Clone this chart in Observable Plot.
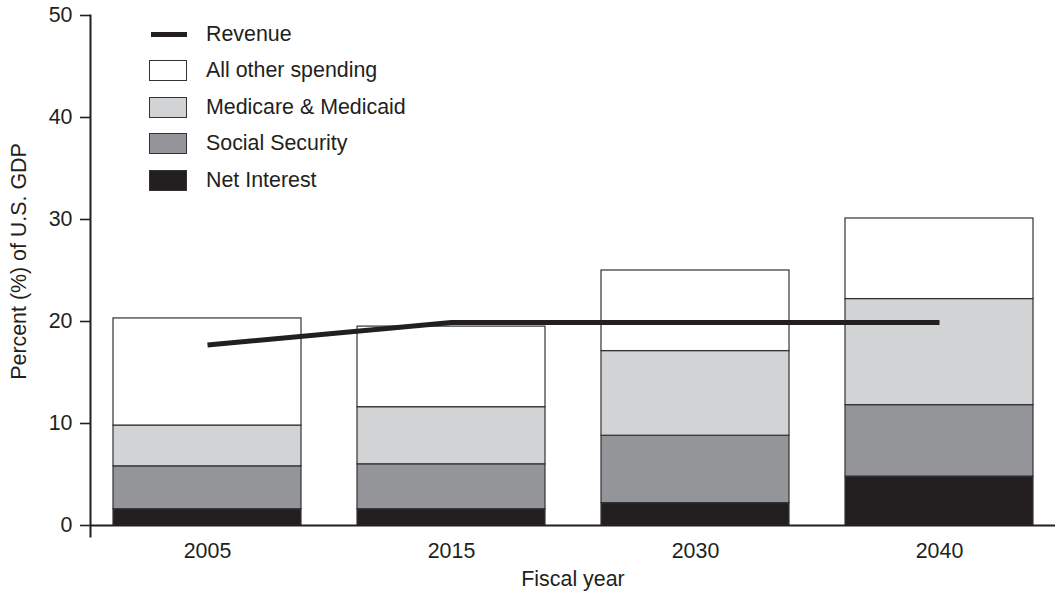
<!DOCTYPE html>
<html>
<head>
<meta charset="utf-8">
<script src="https://cdn.jsdelivr.net/npm/d3@7"></script>
<script src="https://cdn.jsdelivr.net/npm/@observablehq/plot@0.6"></script>
<style>
  html, body { margin: 0; padding: 0; background: #fff; }
  #wrap { position: relative; width: 1055px; height: 592px; font-family: "Liberation Sans", Arial, Helvetica, sans-serif; color: #231f20; }
  #legend { position: absolute; left: 149px; top: 0; }
  .item { position: absolute; left: 0; height: 36px; display: flex; align-items: center; white-space: nowrap; font-size: 21.4px; }
  .sw { width: 36px; height: 19px; border: 1px solid #333; box-sizing: content-box; margin-right: 19px; }
  .ln { width: 36px; height: 5px; background: #231f20; margin: 0 19px 0 2px; }
</style>
</head>
<body>
<div id="wrap"><div id="legend"></div></div>
<script>
const years = ["2005", "2015", "2030", "2040"];
const seriesNames = ["Net Interest", "Social Security", "Medicare & Medicaid", "All other spending"];
const netInterest = [1.6, 1.6, 2.2, 4.8];
const socialSecurity = [4.2, 4.4, 6.6, 7.0];
const medicare = [4.0, 5.6, 8.3, 10.4];
const allOther = [10.5, 7.9, 7.9, 7.9];
const revenue = [17.7, 19.9, 19.9, 19.9];
const yTicks = [0, 10, 20, 30, 40, 50];
const seriesColors = ["#231f20", "#939598", "#d1d3d4", "#ffffff"];

const seriesValues = [netInterest, socialSecurity, medicare, allOther];
const stacked = [];
years.forEach((yr, i) => {
  seriesNames.forEach((s, j) => stacked.push({year: yr, series: s, value: seriesValues[j][i]}));
});
const revData = years.map((yr, i) => ({year: yr, value: revenue[i]}));

const chart = Plot.plot({
  width: 1055,
  height: 592,
  marginLeft: 90,
  marginRight: 0,
  marginTop: 15,
  marginBottom: 67,
  style: {fontFamily: '"Liberation Sans", Arial, Helvetica, sans-serif', fontSize: "21px", color: "#231f20", background: "transparent"},
  x: {domain: years, paddingInner: 0.23, paddingOuter: 0.09, label: null},
  y: {domain: [0, 50], label: null},
  color: {domain: seriesNames, range: seriesColors},
  marks: [
    Plot.barY(stacked, {x: "year", y: "value", fill: "series", order: seriesNames, stroke: "#333", strokeWidth: 1.2}),
    Plot.ruleY([0], {stroke: "#231f20", strokeWidth: 2}),
    Plot.frame({anchor: "left", insetBottom: -11, stroke: "#231f20", strokeWidth: 2}),
    Plot.axisY({ticks: yTicks, tickSize: 10, tickPadding: 8, fontSize: 21.4, stroke: "#231f20", strokeWidth: 1.6, label: null}),
    Plot.axisX({tickSize: 0, tickPadding: 17, fontSize: 21.4, label: null}),
    Plot.line(revData, {x: "year", y: "value", stroke: "#231f20", strokeWidth: 5, strokeLinecap: "butt", strokeLinejoin: "miter"}),
    Plot.text(["Percent (%) of U.S. GDP"], {frameAnchor: "left", textAnchor: "middle", rotate: -90, dx: -71, dy: -9, fontSize: 21.4, fill: "#231f20"}),
    Plot.text(["Fiscal year"], {frameAnchor: "bottom", dy: 60, fontSize: 21.4, fill: "#231f20"})
  ]
});
document.getElementById("wrap").prepend(chart);

const legend = document.getElementById("legend");
const items = [{label: "Revenue", type: "line"}].concat(
  ["All other spending", "Medicare & Medicaid", "Social Security", "Net Interest"].map(s => ({label: s, type: "box", color: seriesColors[seriesNames.indexOf(s)]}))
);
items.forEach((it, i) => {
  const d = document.createElement("div");
  d.className = "item";
  d.style.top = (16 + i * 36.5) + "px";
  const sw = document.createElement("div");
  if (it.type === "line") { sw.className = "ln"; }
  else { sw.className = "sw"; sw.style.background = it.color; }
  d.appendChild(sw);
  const t = document.createElement("span");
  t.textContent = it.label;
  d.appendChild(t);
  legend.appendChild(d);
});
</script>
</body>
</html>
